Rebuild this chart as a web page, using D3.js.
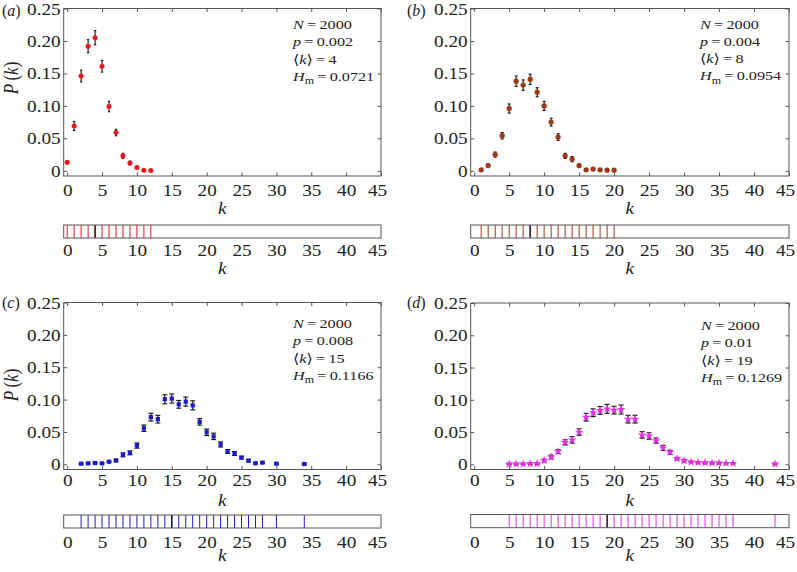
<!DOCTYPE html>
<html><head><meta charset="utf-8">
<script src="https://cdn.jsdelivr.net/npm/d3@7"></script>
<style>
body{margin:0;background:#fff}
svg{display:block}
text{font-family:"Liberation Serif","Times New Roman","DejaVu Serif",serif}
</style>
</head><body>
<svg id="chart" width="797" height="572"></svg>
<script>
// ---------------- data ----------------
const xTicks = [0, 5, 10, 15, 20, 25, 30, 35, 40, 45];
const yTicks = [0, 0.05, 0.10, 0.15, 0.20, 0.25];
const yTickLabels = ["0", "0.05", "0.10", "0.15", "0.20", "0.25"];

// panel (a)
const kA = [0, 1, 2, 3, 4, 5, 6, 7, 8, 9, 10, 11, 12];
const pA = [0.013, 0.069, 0.146, 0.192, 0.205, 0.161, 0.099, 0.059, 0.023, 0.012, 0.005, 0.001, 0.0005];
const eA = [0.002, 0.007, 0.009, 0.010, 0.011, 0.009, 0.008, 0.005, 0.004, 0.003, 0.002, 0.001, 0.001];

// panel (b)
const kB = [1, 2, 3, 4, 5, 6, 7, 8, 9, 10, 11, 12, 13, 14, 15, 16, 17, 18, 19, 20];
const pB = [0.0015, 0.008, 0.025, 0.054, 0.096, 0.138, 0.132, 0.141, 0.121, 0.100, 0.075, 0.052, 0.023, 0.018, 0.008, 0.0015, 0.0026, 0.0015, 0.001, 0.001];
const eB = [0.002, 0.003, 0.004, 0.005, 0.007, 0.008, 0.008, 0.008, 0.007, 0.007, 0.006, 0.005, 0.004, 0.004, 0.003, 0.002, 0.002, 0.001, 0.001, 0.001];

// panel (c)
const kC = [2, 3, 4, 5, 6, 7, 8, 9, 10, 11, 12, 13, 14, 15, 16, 17, 18, 19, 20, 21, 22, 23, 24, 25, 26, 27, 28, 30, 34];
const pC = [0.001, 0.0015, 0.002, 0.0015, 0.004, 0.006, 0.0146, 0.0177, 0.029, 0.0557, 0.0729, 0.0698, 0.1005, 0.1016, 0.0927, 0.0969, 0.0911, 0.0656, 0.0495, 0.0432, 0.0307, 0.0198, 0.0167, 0.0104, 0.0057, 0.0016, 0.0026, 0.001, 0.0005];
const eC = [0.001, 0.001, 0.001, 0.001, 0.001, 0.002, 0.003, 0.003, 0.004, 0.005, 0.006, 0.006, 0.007, 0.007, 0.006, 0.007, 0.007, 0.005, 0.005, 0.005, 0.004, 0.003, 0.003, 0.002, 0.002, 0.001, 0.001, 0.001, 0.001];

// panel (d)
const kD = [5, 6, 7, 8, 9, 10, 11, 12, 13, 14, 15, 16, 17, 18, 19, 20, 21, 22, 23, 24, 25, 26, 27, 28, 29, 30, 31, 32, 33, 34, 35, 36, 37, 43];
const pD = [0.0005, 0.0005, 0.0005, 0.001, 0.001, 0.006, 0.0114, 0.0197, 0.034, 0.038, 0.050, 0.073, 0.080, 0.0835, 0.086, 0.084, 0.085, 0.070, 0.070, 0.0456, 0.044, 0.0368, 0.0254, 0.0187, 0.0088, 0.0057, 0.0036, 0.003, 0.0026, 0.002, 0.002, 0.0016, 0.0016, 0.0005];
const eD = [0.001, 0.001, 0.001, 0.001, 0.001, 0.002, 0.003, 0.003, 0.004, 0.005, 0.005, 0.006, 0.006, 0.006, 0.007, 0.006, 0.007, 0.006, 0.006, 0.005, 0.005, 0.004, 0.004, 0.003, 0.002, 0.002, 0.001, 0.001, 0.001, 0.001, 0.001, 0.001, 0.001, 0.001];

const panelLetters = ["a", "b", "c", "d"];
const infoN = ["2000", "2000", "2000", "2000"];
const infoP = ["0.002", "0.004", "0.008", "0.01"];
const infoMeanK = [4, 8, 15, 19];
const infoH = ["0.0721", "0.0954", "0.1166", "0.1269"];

// ---------------- styles / layout ----------------
const series = [[kA, pA, eA], [kB, pB, eB], [kC, pC, eC], [kD, pD, eD]];
const colors = ["#e8161c", "#9b3a16", "#1c1ccc", "#e630e6"];
const symbols = [d3.symbolCircle, d3.symbolCircle, d3.symbolSquare, d3.symbolStar];
const symSizes = [20, 22, 18, 24];
const capW = [1.2, 1.5, 2.5, 2.5];
const AX = "#555";
const TX = "#222";
const SX = 1.2;    // horizontal stretch of the text
const FS = 16;     // tick label font size
const FA = 13.5;   // annotation font size
const SXA = 1.2;   // annotation stretch

const layout = [
  {left: 63.7, right: 381, top: 8.5, bottom: 176, tickBase: 196, kBase: 214, sTop: 225, sBot: 238, sLab: 256, k2Base: 274, annX: 293, annBase: 29, labX: 2, labBase: 15.5, ylab: [11, 78]},
  {left: 470.7, right: 789, top: 8.5, bottom: 176, tickBase: 196, kBase: 214, sTop: 225, sBot: 238, sLab: 256, k2Base: 274, annX: 700, annBase: 28.5, labX: 407, labBase: 15.5, ylab: null},
  {left: 63.7, right: 381, top: 302.5, bottom: 469.5, tickBase: 486, kBase: 506, sTop: 515, sBot: 528, sLab: 548, k2Base: 561, annX: 293, annBase: 328, labX: 2, labBase: 307.5, ylab: [11, 385]},
  {left: 470.7, right: 789, top: 303, bottom: 469.5, tickBase: 486, kBase: 506, sTop: 514.5, sBot: 527.7, sLab: 548, k2Base: 561, annX: 701, annBase: 330, labX: 407, labBase: 308, ylab: null}
];

const svg = d3.select("#chart");

function styleAxis(ax) {
  ax.attr("font-family", null).attr("font-size", null);
  ax.select(".domain").remove();
  ax.selectAll(".tick line").attr("stroke", AX).attr("stroke-width", 1);
}

function richText(sel, parts) {
  parts.forEach(p => {
    const t = sel.append("tspan").text(p[0]);
    if (p[1]) t.attr("font-style", "italic");
    if (p[2]) p[2](t);
  });
}

// the last x label sits slightly inside the frame in the reference
const xLabShift = d => (d === 45 ? -4 : 0);

series.forEach((s, i) => {
  const L = layout[i];
  const [ks, ps, es] = s;
  const x = d3.scaleLinear().domain([-0.5, 45]).range([L.left, L.right]);
  const y = d3.scaleLinear().domain([-0.008, 0.25]).range([L.bottom, L.top]);
  const g = svg.append("g");

  // frame
  g.append("rect")
    .attr("x", L.left).attr("y", L.top)
    .attr("width", L.right - L.left).attr("height", L.bottom - L.top)
    .attr("fill", "none").attr("stroke", AX).attr("stroke-width", 1);

  // bottom axis with labels
  const ab = g.append("g").attr("transform", `translate(0,${L.bottom})`)
    .call(d3.axisBottom(x).tickValues(xTicks).tickSizeInner(-3.5).tickSizeOuter(0).tickFormat(d3.format("d")));
  styleAxis(ab);
  ab.selectAll(".tick text")
    .attr("y", null).attr("dy", null)
    .attr("transform", d => `translate(${xLabShift(d)},${L.tickBase - L.bottom}) scale(${SX},1)`)
    .attr("font-size", FS).attr("fill", TX);

  // top axis (ticks only)
  const at = g.append("g").attr("transform", `translate(0,${L.top})`)
    .call(d3.axisTop(x).tickValues(xTicks).tickSizeInner(-3.5).tickSizeOuter(0).tickFormat(""));
  styleAxis(at);

  // left axis with labels
  const al = g.append("g").attr("transform", `translate(${L.left},0)`)
    .call(d3.axisLeft(y).tickValues(yTicks).tickSizeInner(-3.5).tickSizeOuter(0).tickFormat((d, j) => yTickLabels[j]));
  styleAxis(al);
  al.selectAll(".tick text")
    .attr("x", null).attr("dy", null)
    .attr("transform", `translate(-3,5.5) scale(${SX},1)`)
    .attr("text-anchor", "end")
    .attr("font-size", FS).attr("fill", TX);

  // right axis (ticks only)
  const ar = g.append("g").attr("transform", `translate(${L.right},0)`)
    .call(d3.axisRight(y).tickValues(yTicks).tickSizeInner(-3.5).tickSizeOuter(0).tickFormat(""));
  styleAxis(ar);

  const data = ks.map((k, j) => ({k: k, p: ps[j], e: es[j]}));

  // error bars
  const eb = g.append("g").attr("stroke", "#111").attr("stroke-width", 1.1);
  eb.selectAll("line.v").data(data).join("line").attr("class", "v")
    .attr("x1", d => x(d.k)).attr("x2", d => x(d.k))
    .attr("y1", d => y(d.p - d.e)).attr("y2", d => y(d.p + d.e));
  eb.selectAll("line.t").data(data).join("line").attr("class", "t")
    .attr("x1", d => x(d.k) - capW[i]).attr("x2", d => x(d.k) + capW[i])
    .attr("y1", d => y(d.p + d.e)).attr("y2", d => y(d.p + d.e));
  eb.selectAll("line.b").data(data).join("line").attr("class", "b")
    .attr("x1", d => x(d.k) - capW[i]).attr("x2", d => x(d.k) + capW[i])
    .attr("y1", d => y(d.p - d.e)).attr("y2", d => y(d.p - d.e));

  // markers
  g.append("g").selectAll("path").data(data).join("path")
    .attr("d", d3.symbol(symbols[i], symSizes[i]))
    .attr("transform", d => `translate(${x(d.k)},${y(d.p)})`)
    .attr("fill", colors[i]);

  // annotation
  const lines = [
    [["N", true], ["\u2009=\u2009" + infoN[i], false]],
    [["p", true], ["\u2009=\u2009" + infoP[i], false]],
    [["\u27E8", false], ["k", true], ["\u27E9\u2009=\u2009" + infoMeanK[i], false]],
    [["H", true], ["m", false, t => t.attr("dy", 3.5).attr("font-size", 10)], ["\u2009=\u2009" + infoH[i], false, t => t.attr("dy", -3.5)]]
  ];
  lines.forEach((ln, j) => {
    const t = g.append("text")
      .attr("transform", `translate(${L.annX},${L.annBase + j * 17.3}) scale(${SXA},1)`)
      .attr("font-size", FA).attr("fill", TX);
    richText(t, ln);
  });

  // k label under plot
  g.append("text")
    .attr("transform", `translate(${(L.left + L.right) / 2},${L.kBase}) scale(${SX},1)`)
    .attr("text-anchor", "middle").attr("font-size", FS).attr("font-style", "italic").attr("fill", TX)
    .text("k");

  // panel label
  const pl = g.append("text")
    .attr("transform", `translate(${L.labX},${L.labBase})`)
    .attr("font-size", FS).attr("fill", TX);
  richText(pl, [["(", false], [panelLetters[i], true], [")", false]]);

  // y label
  if (L.ylab) {
    const yl = g.append("text")
      .attr("transform", `translate(${L.ylab[0]},${L.ylab[1]}) scale(${SX},1) rotate(-90)`)
      .attr("text-anchor", "middle").attr("dy", "0.35em")
      .attr("font-size", FS + 1).attr("fill", TX);
    richText(yl, [["P", true], ["\u2009(", false], ["k", true], [")", false]]);
  }

  // strip
  const sg = g.append("g");
  sg.selectAll("line.s").data(ks).join("line").attr("class", "s")
    .attr("x1", d => x(d)).attr("x2", d => x(d))
    .attr("y1", L.sTop).attr("y2", L.sBot)
    .attr("stroke", colors[i]).attr("stroke-width", 1);
  sg.append("line")
    .attr("x1", x(infoMeanK[i])).attr("x2", x(infoMeanK[i]))
    .attr("y1", L.sTop).attr("y2", L.sBot)
    .attr("stroke", "#111").attr("stroke-width", 1.3);
  sg.append("rect")
    .attr("x", L.left).attr("y", L.sTop)
    .attr("width", L.right - L.left).attr("height", L.sBot - L.sTop)
    .attr("fill", "none").attr("stroke", AX).attr("stroke-width", 1);

  const as = g.append("g").attr("transform", `translate(0,${L.sBot})`)
    .call(d3.axisBottom(x).tickValues(xTicks).tickSize(0).tickFormat(d3.format("d")));
  styleAxis(as);
  as.selectAll(".tick line").remove();
  as.selectAll(".tick text")
    .attr("y", null).attr("dy", null)
    .attr("transform", d => `translate(${xLabShift(d)},${L.sLab - L.sBot}) scale(${SX},1)`)
    .attr("font-size", FS).attr("fill", TX);

  g.append("text")
    .attr("transform", `translate(${(L.left + L.right) / 2},${L.k2Base}) scale(${SX},1)`)
    .attr("text-anchor", "middle").attr("font-size", FS).attr("font-style", "italic").attr("fill", TX)
    .text("k");
});
</script>
</body></html>
